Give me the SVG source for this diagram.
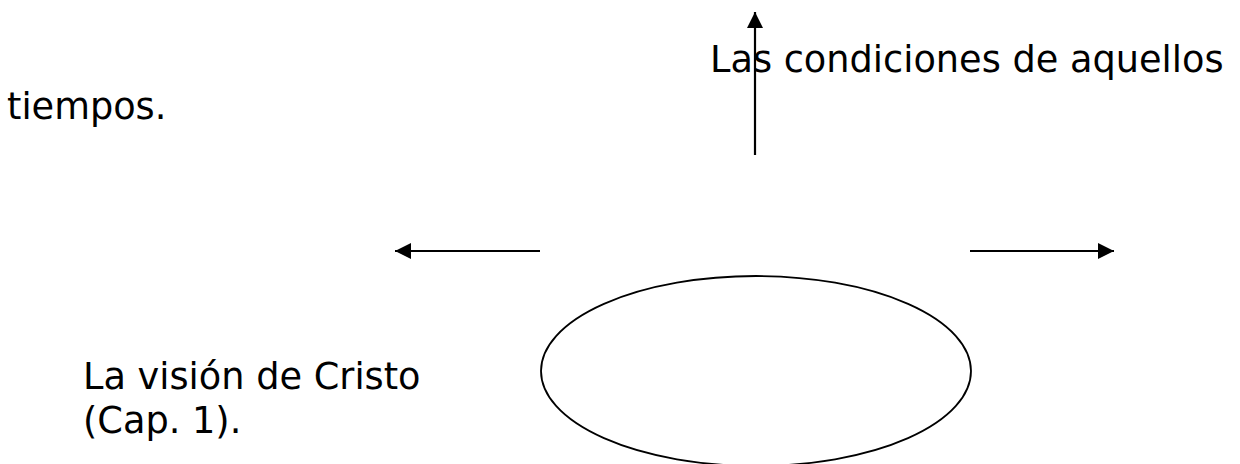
<svg xmlns="http://www.w3.org/2000/svg" width="1240" height="464" viewBox="0 0 1240 464">
<defs>
<style>
.t{font-family:"DejaVu Sans","Verdana",sans-serif;font-size:36.7px;fill:#000}
.c{stroke:#000;stroke-width:2.2;fill:none}
</style>
<marker id="ah" markerUnits="userSpaceOnUse" markerWidth="16" markerHeight="16" refX="16" refY="8" orient="auto" viewBox="0 0 16 16">
<path d="M0,0 L16,8 L0,16 z" fill="#000"/>
</marker>
</defs>
<rect width="1240" height="464" fill="#fff"/>
<g id="text-top">
<text class="t" x="710" y="72">Las condiciones de aquellos</text>
<text class="t" x="7" y="119">tiempos.</text>
</g>
<g id="node-ellipse">
<ellipse cx="756" cy="371" rx="215" ry="95" fill="none" stroke="#000" stroke-width="1.8"/>
</g>
<g id="text-vision">
<text class="t" x="83" y="389">La visión de Cristo</text>
<text class="t" x="83" y="433">(Cap. 1).</text>
</g>
<g id="connectors">
<line class="c" x1="755" y1="155" x2="755" y2="12" marker-end="url(#ah)"/>
<line class="c" x1="540" y1="251" x2="395" y2="251" marker-end="url(#ah)"/>
<line class="c" x1="970" y1="251" x2="1114" y2="251" marker-end="url(#ah)"/>
</g>
</svg>
